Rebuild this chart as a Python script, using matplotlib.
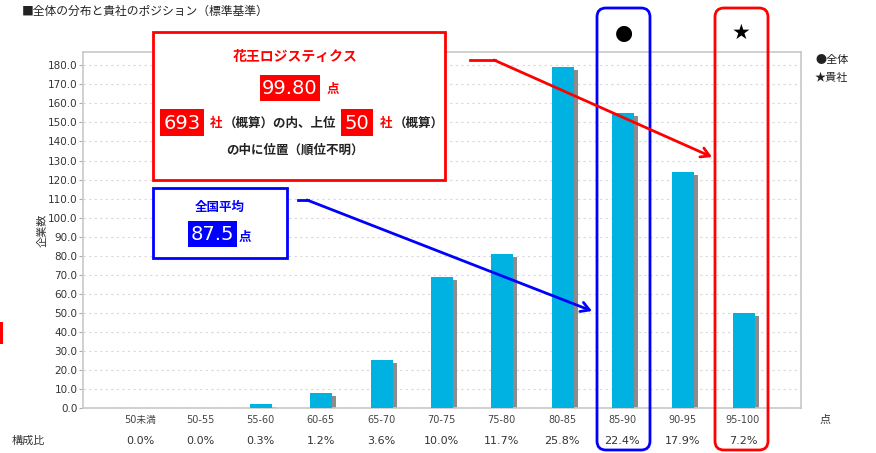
import numpy as np
import matplotlib
matplotlib.use("Agg")
import matplotlib.pyplot as plt
from matplotlib.transforms import Affine2D, ScaledTranslation
from matplotlib.patches import Rectangle, FancyBboxPatch, FancyArrowPatch
from matplotlib.lines import Line2D

plt.rcParams['font.family'] = ['Noto Sans CJK JP', 'DejaVu Sans']

# --- data ---
categories = ['50未満', '50-55', '55-60', '60-65', '65-70', '70-75',
              '75-80', '80-85', '85-90', '90-95', '95-100']
counts = [0, 0, 2, 8, 25, 69, 81, 179, 155, 124, 50]
shares = ['0.0%', '0.0%', '0.3%', '1.2%', '3.6%', '10.0%',
          '11.7%', '25.8%', '22.4%', '17.9%', '7.2%']
yticks = np.arange(0, 181, 10)

company = '花王ロジスティクス'
company_score = '99.80'
n_total = '693'
n_rank = '50'
national_avg = '87.5'

W, H = 876, 453
fig = plt.figure(figsize=(W / 100, H / 100), dpi=100)
# overlay coordinates: pixels, origin top-left
T = Affine2D().scale(1, -1).translate(0, H).scale(1 / 100) + fig.dpi_scale_trans

ax = fig.add_axes([83 / W, (H - 408) / H, 718 / W, (408 - 52) / H])
x = np.arange(len(categories))
bar_w = 0.36

# shadow bars (shifted a few pixels right / down)
shadow = ScaledTranslation(4 / 100, -3 / 100, fig.dpi_scale_trans)
ax.bar(x, counts, width=bar_w, color='#8c8c8c', zorder=2,
       transform=ax.transData + shadow, clip_on=True)
ax.bar(x, counts, width=bar_w, color='#00b2e2', zorder=3)

ax.set_xlim(-0.95, 10.95)
ax.set_ylim(0, 187)
ax.set_yticks(yticks)
ax.set_yticklabels([f'{v:.1f}' for v in yticks], fontsize=7.5, color='#333333',
                   family=['DejaVu Sans', 'Noto Sans CJK JP'])
ax.set_xticks(x)
ax.set_xticklabels([])
ax.tick_params(axis='x', length=0)
ax.tick_params(axis='y', length=3, color='#aaaaaa', pad=1)
ax.grid(axis='y', linestyle=(0, (2, 3)), color='#d8d8d8', linewidth=0.8, zorder=0)
for s in ax.spines.values():
    s.set_color('#c8c8c8')
    s.set_linewidth(1.2)
ax.set_ylabel('企業数', fontsize=8, color='#333333', labelpad=2)
ax.yaxis.set_label_coords(-0.05, 0.5)

# category labels and shares under the axis
for i, (c, s) in enumerate(zip(categories, shares)):
    px = 140 + i * 60.3
    fig.text(px, 420, c, transform=T, ha='center', va='center', fontsize=7,
             color='#444444', family=['DejaVu Sans', 'Noto Sans CJK JP'])
    fig.text(px, 441, s, transform=T, ha='center', va='center', fontsize=8,
             color='#333333', family=['DejaVu Sans', 'Noto Sans CJK JP'])
fig.text(825, 420, '点', transform=T, ha='center', va='center', fontsize=8, color='#333333')
fig.text(12, 441, '構成比', transform=T, ha='left', va='center', fontsize=8, color='#333333')

# title and legend
fig.text(22, 11, '■全体の分布と貴社のポジション（標準基準）', transform=T,
         ha='left', va='center', fontsize=8.5, color='#222222')
fig.text(815, 60, '●全体', transform=T, ha='left', va='center', fontsize=8, color='#222222')
fig.text(815, 78, '★貴社', transform=T, ha='left', va='center', fontsize=8, color='#222222')

# highlight columns
for x0, col, mark in [(597, 'blue', '●'), (715, 'red', '★')]:
    fig.add_artist(FancyBboxPatch((x0, 8), 53, 442, boxstyle='round,pad=0,rounding_size=9',
                                  transform=T, fill=False, edgecolor=col, linewidth=2))
    fig.text(x0 + 26.5, 33, mark, transform=T, ha='center', va='center',
             fontsize=15, color='black', family=['DejaVu Sans'])

# left edge fragment
fig.add_artist(Rectangle((0, 322), 3, 22, transform=T, facecolor='red', edgecolor='none'))

# red callout box
fig.add_artist(Rectangle((153, 32), 292, 148, transform=T, fill=False,
                         edgecolor='red', linewidth=2, zorder=5))
fig.add_artist(Rectangle((154, 33), 290, 146, transform=T, facecolor='white',
                         edgecolor='none', zorder=4))
fig.text(295, 57, company, transform=T, ha='center', va='center', fontsize=10,
         color='red', fontweight='bold', zorder=6)


def num_box(x0, y0, w, h, txt, col):
    fig.add_artist(Rectangle((x0, y0), w, h, transform=T, facecolor=col,
                             edgecolor='none', zorder=6))
    fig.text(x0 + w / 2, y0 + h / 2 + 1, txt, transform=T, ha='center', va='center',
             fontsize=14, color='white', zorder=7, family=['DejaVu Sans'])


num_box(260, 75, 60, 26, company_score, 'red')
fig.text(327, 89, '点', transform=T, ha='left', va='center', fontsize=9,
         color='red', fontweight='bold', zorder=6)
num_box(160, 109, 44, 27, n_total, 'red')
fig.text(210, 123, '社', transform=T, ha='left', va='center', fontsize=9,
         color='red', fontweight='bold', zorder=6)
fig.text(224, 123, '（概算）の内、上位', transform=T, ha='left', va='center', fontsize=9,
         color='#222222', fontweight='bold', zorder=6)
num_box(341, 109, 32, 27, n_rank, 'red')
fig.text(380, 123, '社', transform=T, ha='left', va='center', fontsize=9,
         color='red', fontweight='bold', zorder=6)
fig.text(394, 123, '（概算）', transform=T, ha='left', va='center', fontsize=9,
         color='#222222', fontweight='bold', zorder=6)
fig.text(295, 150, 'の中に位置（順位不明）', transform=T, ha='center', va='center',
         fontsize=9, color='#222222', fontweight='bold', zorder=6)

# blue callout box
fig.add_artist(Rectangle((153, 188), 134, 70, transform=T, facecolor='white',
                         edgecolor='blue', linewidth=2, zorder=5))
fig.text(220, 207, '全国平均', transform=T, ha='center', va='center', fontsize=9,
         color='blue', fontweight='bold', zorder=6)
num_box(188, 221, 49, 26, national_avg, 'blue')
fig.text(239, 237, '点', transform=T, ha='left', va='center', fontsize=9,
         color='blue', fontweight='bold', zorder=6)

# arrows
fig.add_artist(Line2D([470, 495], [60, 60], transform=T, color='red', lw=2, zorder=8))
fig.add_artist(FancyArrowPatch((494, 60), (712, 157), transform=T, color='red', lw=2,
                               arrowstyle='->,head_length=6,head_width=3.5',
                               shrinkA=0, shrinkB=0, zorder=8))
fig.add_artist(Line2D([298, 308], [200, 200], transform=T, color='blue', lw=2, zorder=8))
fig.add_artist(FancyArrowPatch((307, 200), (592, 311), transform=T, color='blue', lw=2,
                               arrowstyle='->,head_length=6,head_width=3.5',
                               shrinkA=0, shrinkB=0, zorder=8))

fig.savefig('out.png', dpi=100)
